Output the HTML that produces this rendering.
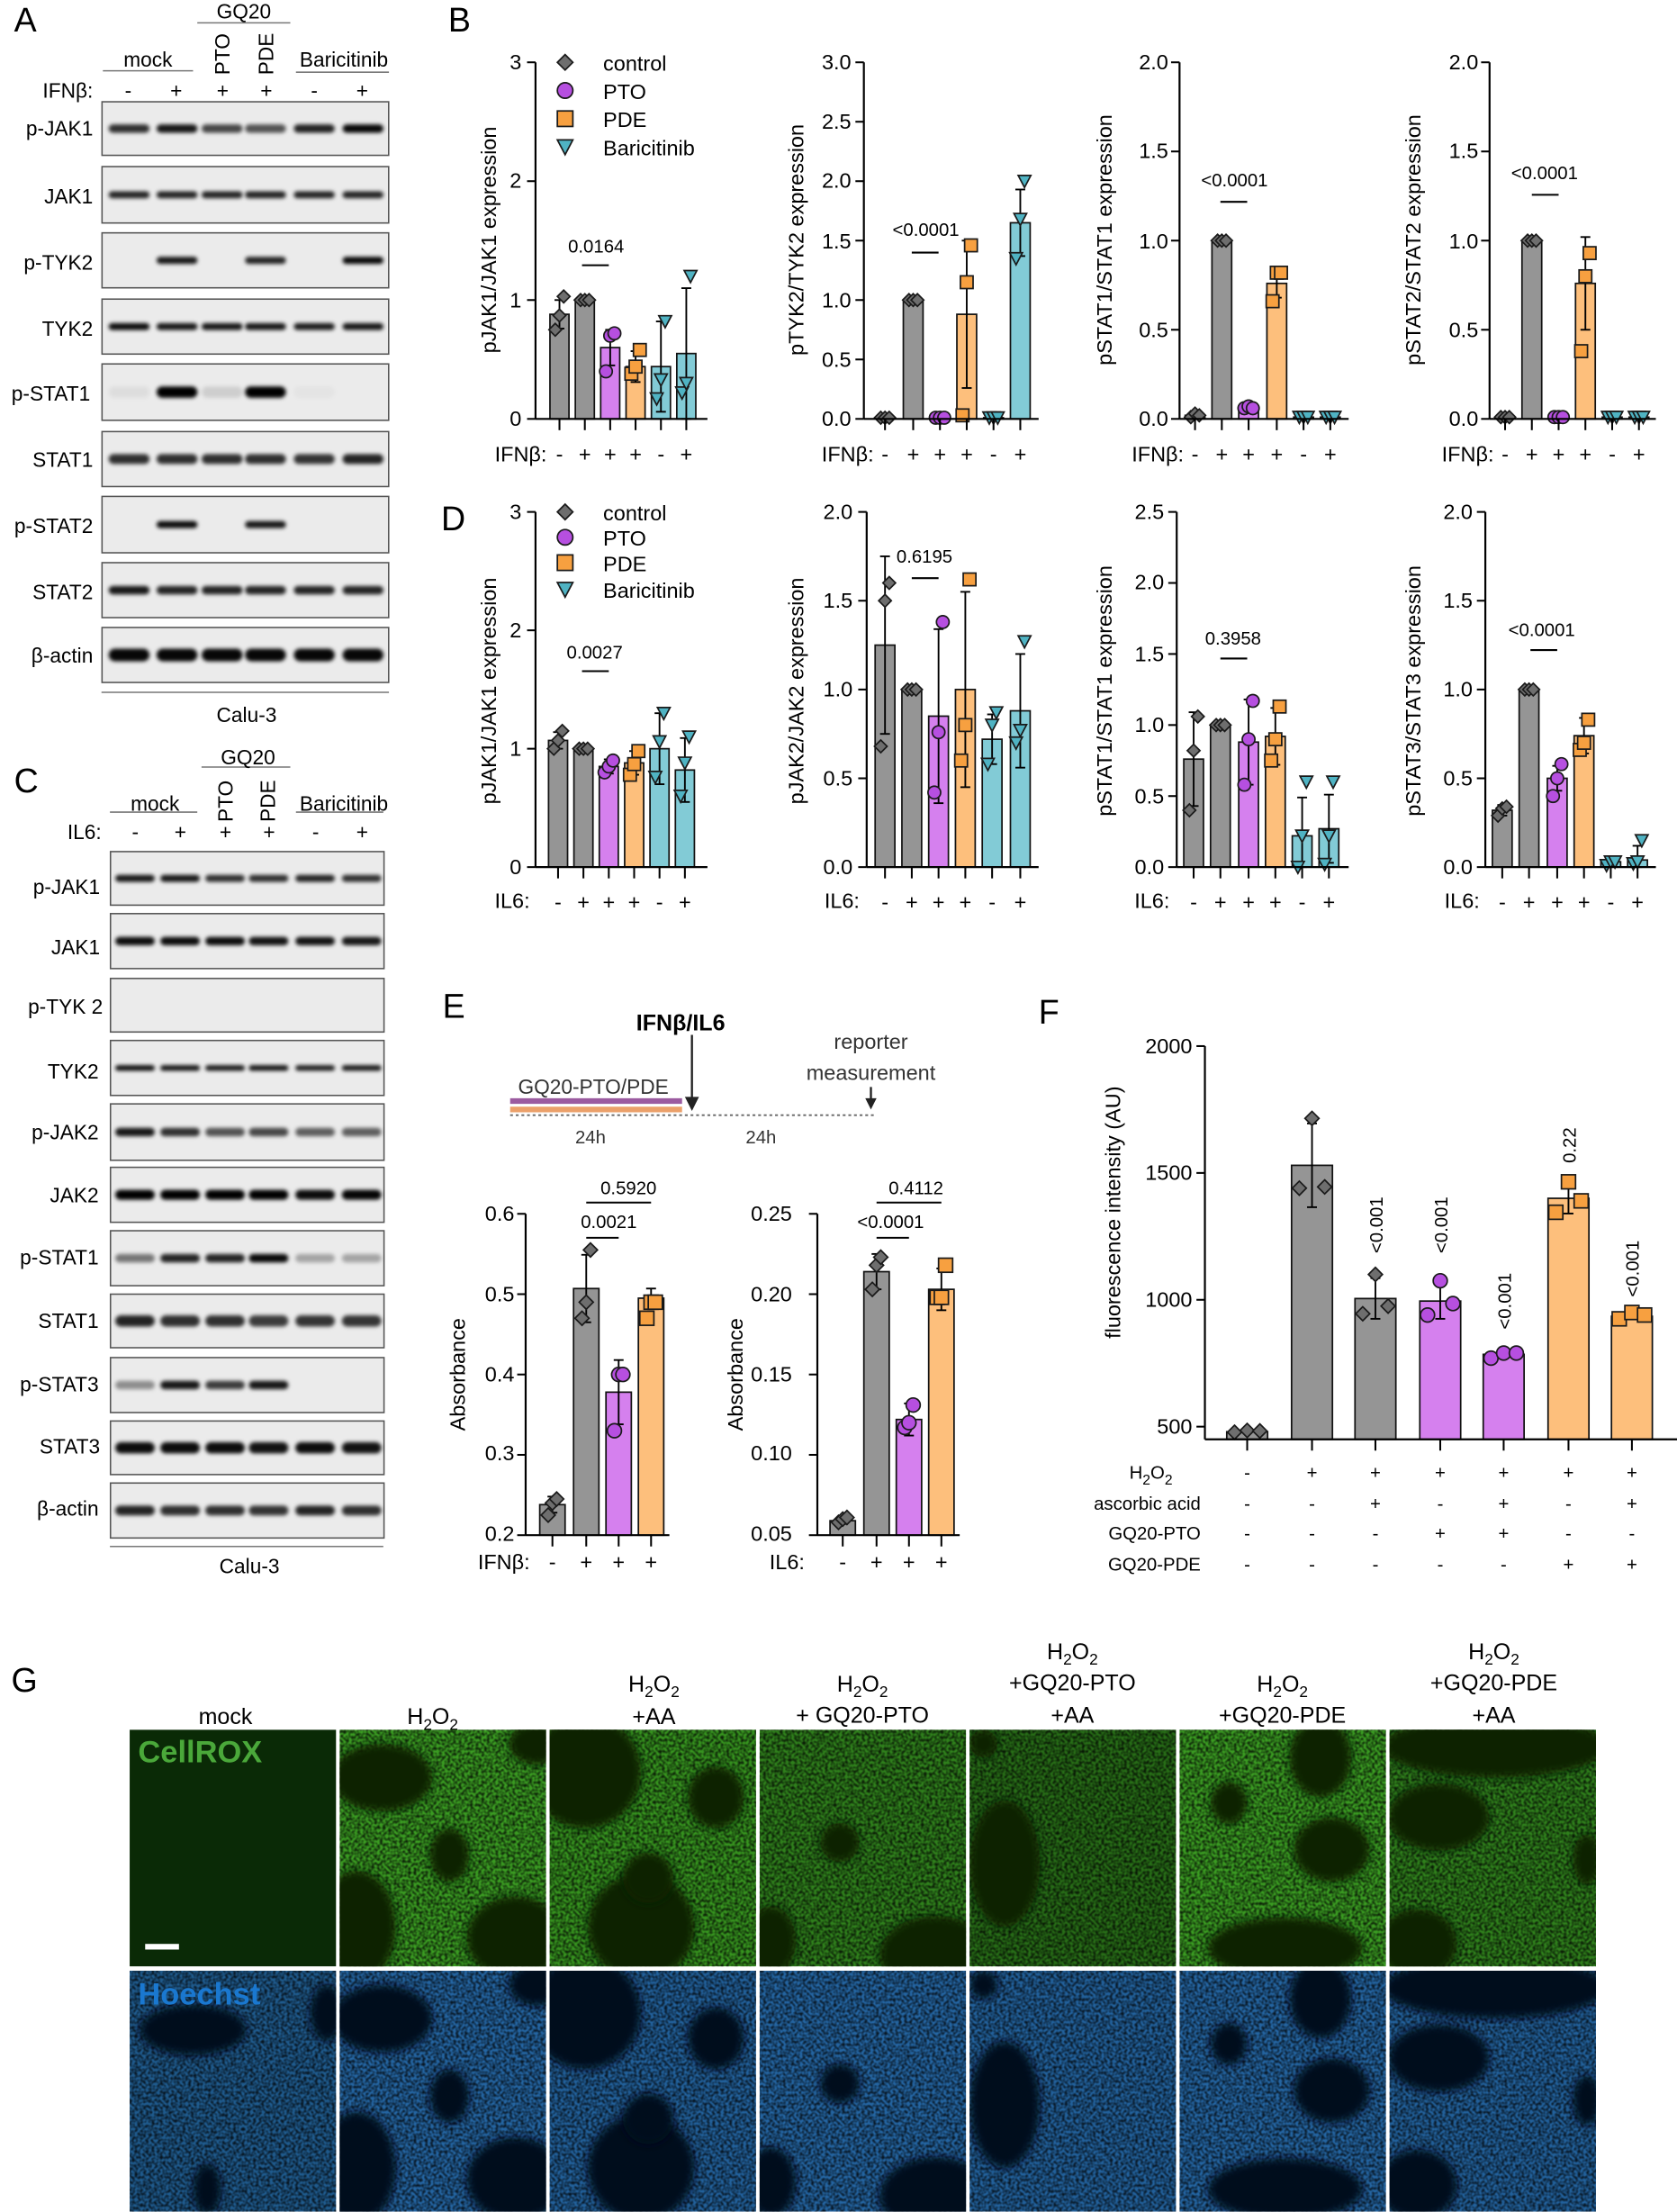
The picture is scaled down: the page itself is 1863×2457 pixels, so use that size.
<!DOCTYPE html>
<html><head><meta charset="utf-8">
<style>
html,body{margin:0;padding:0;background:#fff;}
svg{display:block;}
text{font-family:"Liberation Sans",Arial,sans-serif;fill:#000;}
.t{font-size:15px;}
.s{font-size:13px;}
.b{font-size:14.5px;}
.ar{text-anchor:end;}
.am{text-anchor:middle;}
.P{font-size:24px;}
</style></head>
<body>
<svg id="svg" width="1863" height="2457" viewBox="0 0 1190 1569" xmlns="http://www.w3.org/2000/svg">
<defs>
<filter id="bl" x="-20%" y="-100%" width="140%" height="300%"><feGaussianBlur stdDeviation="1.4"/></filter>
<filter id="bl2" x="-20%" y="-20%" width="140%" height="140%"><feGaussianBlur stdDeviation="3"/></filter>
<filter id="nz" x="0" y="0" width="100%" height="100%">
<feTurbulence type="fractalNoise" baseFrequency="0.5" numOctaves="1" seed="3"/>
<feColorMatrix type="matrix" values="0 0 0 0 0  0 0 0 0 0  0 0 0 0 0  0 0 0 2.2 -0.7"/>
</filter>
</defs>
<rect width="1190" height="1569" fill="#fff"/>
<g id="g"></g>

<text x="10" y="22" class="P">A</text>
<text x="318" y="22" class="P">B</text>
<text x="10" y="562" class="P">C</text>
<text x="313" y="376" class="P">D</text>
<text x="314" y="722" class="P">E</text>
<text x="737" y="726" class="P">F</text>
<text x="8" y="1200" class="P">G</text>

<text x="105" y="47" class="b am">mock</text>
<text x="173" y="13" class="b am">GQ20</text>
<text class="b" transform="translate(163,53) rotate(-90)">PTO</text>
<text class="b" transform="translate(194,53) rotate(-90)">PDE</text>
<text x="244" y="47" class="b am">Baricitinib</text>
<text x="66" y="69" class="b ar">IFNβ:</text>
<text x="91" y="69" class="b am">-</text><text x="125" y="69" class="b am">+</text><text x="158" y="69" class="b am">+</text><text x="189" y="69" class="b am">+</text><text x="223" y="69" class="b am">-</text><text x="257" y="69" class="b am">+</text>
<text x="66" y="96" class="b ar">p-JAK1</text>
<text x="66" y="144" class="b ar">JAK1</text>
<text x="66" y="191" class="b ar">p-TYK2</text>
<text x="66" y="238" class="b ar">TYK2</text>
<text x="64" y="284" class="b ar">p-STAT1</text>
<text x="66" y="331" class="b ar">STAT1</text>
<text x="66" y="378" class="b ar">p-STAT2</text>
<text x="66" y="425" class="b ar">STAT2</text>
<text x="66" y="470" class="b ar">β-actin</text>
<text x="175" y="512" class="b am">Calu-3</text>

<text x="110" y="575" class="b am">mock</text>
<text x="176" y="542" class="b am">GQ20</text>
<text class="b" transform="translate(165,583) rotate(-90)">PTO</text>
<text class="b" transform="translate(195,583) rotate(-90)">PDE</text>
<text x="244" y="575" class="b am">Baricitinib</text>
<text x="72" y="595" class="b ar">IL6:</text>
<text x="96" y="595" class="b am">-</text><text x="128" y="595" class="b am">+</text><text x="160" y="595" class="b am">+</text><text x="191" y="595" class="b am">+</text><text x="224" y="595" class="b am">-</text><text x="257" y="595" class="b am">+</text>
<text x="71" y="634" class="b ar">p-JAK1</text>
<text x="71" y="677" class="b ar">JAK1</text>
<text x="73" y="719" class="b ar">p-TYK 2</text>
<text x="70" y="765" class="b ar">TYK2</text>
<text x="70" y="808" class="b ar">p-JAK2</text>
<text x="70" y="853" class="b ar">JAK2</text>
<text x="70" y="897" class="b ar">p-STAT1</text>
<text x="70" y="942" class="b ar">STAT1</text>
<text x="70" y="987" class="b ar">p-STAT3</text>
<text x="71" y="1031" class="b ar">STAT3</text>
<text x="70" y="1075" class="b ar">β-actin</text>
<text x="177" y="1116" class="b am">Calu-3</text>

<text x="370" y="49" class="t ar">3</text><text x="370" y="133" class="t ar">2</text><text x="370" y="218" class="t ar">1</text><text x="370" y="302" class="t ar">0</text>
<text class="t am" transform="translate(352,170) rotate(-90)">pJAK1/JAK1 expression</text>
<text x="428" y="50" class="t">control</text><text x="428" y="70" class="t">PTO</text><text x="428" y="90" class="t">PDE</text><text x="428" y="110" class="t">Baricitinib</text>
<text x="423" y="179" class="s am">0.0164</text>
<text x="388" y="327" class="t ar">IFNβ:</text>
<text x="604" y="49" class="t ar">3.0</text><text x="604" y="91" class="t ar">2.5</text><text x="604" y="133" class="t ar">2.0</text><text x="604" y="176" class="t ar">1.5</text><text x="604" y="218" class="t ar">1.0</text><text x="604" y="260" class="t ar">0.5</text><text x="604" y="302" class="t ar">0.0</text>
<text class="t am" transform="translate(570,170) rotate(-90)">pTYK2/TYK2 expression</text>
<text x="657" y="167" class="s am">&lt;0.0001</text>
<text x="620" y="327" class="t ar">IFNβ:</text>
<text x="829" y="49" class="t ar">2.0</text><text x="829" y="112" class="t ar">1.5</text><text x="829" y="176" class="t ar">1.0</text><text x="829" y="239" class="t ar">0.5</text><text x="829" y="302" class="t ar">0.0</text>
<text class="t am" transform="translate(789,170) rotate(-90)">pSTAT1/STAT1 expression</text>
<text x="876" y="132" class="s am">&lt;0.0001</text>
<text x="840" y="327" class="t ar">IFNβ:</text>
<text x="1049" y="49" class="t ar">2.0</text><text x="1049" y="112" class="t ar">1.5</text><text x="1049" y="176" class="t ar">1.0</text><text x="1049" y="239" class="t ar">0.5</text><text x="1049" y="302" class="t ar">0.0</text>
<text class="t am" transform="translate(1008,170) rotate(-90)">pSTAT2/STAT2 expression</text>
<text x="1096" y="127" class="s am">&lt;0.0001</text>
<text x="1060" y="327" class="t ar">IFNβ:</text>

<text x="370" y="368" class="t ar">3</text><text x="370" y="452" class="t ar">2</text><text x="370" y="536" class="t ar">1</text><text x="370" y="620" class="t ar">0</text>
<text class="t am" transform="translate(352,490) rotate(-90)">pJAK1/JAK1 expression</text>
<text x="428" y="369" class="t">control</text><text x="428" y="387" class="t">PTO</text><text x="428" y="405" class="t">PDE</text><text x="428" y="424" class="t">Baricitinib</text>
<text x="422" y="467" class="s am">0.0027</text>
<text x="376" y="644" class="t ar">IL6:</text>
<text x="605" y="368" class="t ar">2.0</text><text x="605" y="431" class="t ar">1.5</text><text x="605" y="494" class="t ar">1.0</text><text x="605" y="557" class="t ar">0.5</text><text x="605" y="620" class="t ar">0.0</text>
<text class="t am" transform="translate(570,490) rotate(-90)">pJAK2/JAK2 expression</text>
<text x="656" y="399" class="s am">0.6195</text>
<text x="610" y="644" class="t ar">IL6:</text>
<text x="826" y="368" class="t ar">2.5</text><text x="826" y="418" class="t ar">2.0</text><text x="826" y="469" class="t ar">1.5</text><text x="826" y="519" class="t ar">1.0</text><text x="826" y="570" class="t ar">0.5</text><text x="826" y="620" class="t ar">0.0</text>
<text class="t am" transform="translate(789,490) rotate(-90)">pSTAT1/STAT1 expression</text>
<text x="875" y="457" class="s am">0.3958</text>
<text x="830" y="644" class="t ar">IL6:</text>
<text x="1045" y="368" class="t ar">2.0</text><text x="1045" y="431" class="t ar">1.5</text><text x="1045" y="494" class="t ar">1.0</text><text x="1045" y="557" class="t ar">0.5</text><text x="1045" y="620" class="t ar">0.0</text>
<text class="t am" transform="translate(1008,490) rotate(-90)">pSTAT3/STAT3 expression</text>
<text x="1094" y="451" class="s am">&lt;0.0001</text>
<text x="1050" y="644" class="t ar">IL6:</text>

<text x="483" y="731" class="t am" style="font-weight:bold;font-size:16px">IFNβ/IL6</text>
<text x="618" y="744" class="t am" style="fill:#333">reporter</text>
<text x="618" y="766" class="t am" style="fill:#333">measurement</text>
<text x="421" y="776" class="b am" style="fill:#333">GQ20-PTO/PDE</text>
<text x="419" y="811" class="s am" style="fill:#333">24h</text>
<text x="540" y="811" class="s am" style="fill:#333">24h</text>
<text x="365" y="866" class="t ar">0.6</text><text x="365" y="923" class="t ar">0.5</text><text x="365" y="980" class="t ar">0.4</text><text x="365" y="1036" class="t ar">0.3</text><text x="365" y="1093" class="t ar">0.2</text>
<text class="t am" transform="translate(330,975) rotate(-90)">Absorbance</text>
<text x="432" y="871" class="s am">0.0021</text>
<text x="446" y="847" class="s am">0.5920</text>
<text x="376" y="1113" class="t ar">IFNβ:</text>
<text x="562" y="866" class="t ar">0.25</text><text x="562" y="923" class="t ar">0.20</text><text x="562" y="980" class="t ar">0.15</text><text x="562" y="1036" class="t ar">0.10</text><text x="562" y="1093" class="t ar">0.05</text>
<text class="t am" transform="translate(527,975) rotate(-90)">Absorbance</text>
<text x="632" y="871" class="s am">&lt;0.0001</text>
<text x="650" y="847" class="s am">0.4112</text>
<text x="571" y="1113" class="t ar">IL6:</text>

<text x="846" y="747" class="t ar">2000</text><text x="846" y="837" class="t ar">1500</text><text x="846" y="927" class="t ar">1000</text><text x="846" y="1017" class="t ar">500</text>
<text class="t am" transform="translate(795,860) rotate(-90)">fluorescence intensity (AU)</text>
<text class="s" transform="translate(981,889) rotate(-90)">&lt;0.001</text>
<text class="s" transform="translate(1027,889) rotate(-90)">&lt;0.001</text>
<text class="s" transform="translate(1072,943) rotate(-90)">&lt;0.001</text>
<text class="s" transform="translate(1118,825) rotate(-90)">0.22</text>
<text class="s" transform="translate(1163,920) rotate(-90)">&lt;0.001</text>
<text x="832" y="1049" class="s ar">H<tspan font-size="10" dy="4">2</tspan><tspan dy="-4">O</tspan><tspan font-size="10" dy="4">2</tspan></text>
<text x="852" y="1071" class="s ar">ascorbic acid</text>
<text x="852" y="1092" class="s ar">GQ20-PTO</text>
<text x="852" y="1114" class="s ar">GQ20-PDE</text>

<text x="160" y="1223" class="t am" style="font-size:16px">mock</text>
<text x="307" y="1223" class="t am" style="font-size:16px">H<tspan font-size="11" dy="4">2</tspan><tspan dy="-4">O</tspan><tspan font-size="11" dy="4">2</tspan></text>
<text x="464" y="1200" class="t am" style="font-size:16px">H<tspan font-size="11" dy="4">2</tspan><tspan dy="-4">O</tspan><tspan font-size="11" dy="4">2</tspan></text>
<text x="464" y="1223" class="t am" style="font-size:16px">+AA</text>
<text x="612" y="1200" class="t am" style="font-size:16px">H<tspan font-size="11" dy="4">2</tspan><tspan dy="-4">O</tspan><tspan font-size="11" dy="4">2</tspan></text>
<text x="612" y="1222" class="t am" style="font-size:16px">+ GQ20-PTO</text>
<text x="761" y="1177" class="t am" style="font-size:16px">H<tspan font-size="11" dy="4">2</tspan><tspan dy="-4">O</tspan><tspan font-size="11" dy="4">2</tspan></text>
<text x="761" y="1199" class="t am" style="font-size:16px">+GQ20-PTO</text>
<text x="761" y="1222" class="t am" style="font-size:16px">+AA</text>
<text x="910" y="1200" class="t am" style="font-size:16px">H<tspan font-size="11" dy="4">2</tspan><tspan dy="-4">O</tspan><tspan font-size="11" dy="4">2</tspan></text>
<text x="910" y="1222" class="t am" style="font-size:16px">+GQ20-PDE</text>
<text x="1060" y="1177" class="t am" style="font-size:16px">H<tspan font-size="11" dy="4">2</tspan><tspan dy="-4">O</tspan><tspan font-size="11" dy="4">2</tspan></text>
<text x="1060" y="1199" class="t am" style="font-size:16px">+GQ20-PDE</text>
<text x="1060" y="1222" class="t am" style="font-size:16px">+AA</text>
<g id="imgs"></g>
<text x="98" y="1250" style="font-size:22px;font-weight:bold;fill:#4aa83a">CellROX</text>
<text x="98" y="1422" style="font-size:22px;font-weight:bold;fill:#1a78d0">Hoechst</text>
</svg>
<script>
const NS='http://www.w3.org/2000/svg';
const G=document.getElementById('g');
function E(t,a,p){p=p||G;const e=document.createElementNS(NS,t);for(const k in a)e.setAttribute(k,a[k]);p.appendChild(e);return e;}
function L(x1,y1,x2,y2,w,c,p){E('line',{x1,y1,x2,y2,stroke:c||'#000','stroke-width':w||1.3},p);}
const COL={c:'#959595',p:'#d580ee',o:'#fdbf7c',b:'#82cbd6'};
const MK={c:'#6e6e6e',p:'#b64fe0',o:'#f7a040',b:'#4fb3c3'};
function marker(t,x,y,s){
 const st={stroke:'#1a1a1a','stroke-width':1.1,fill:MK[t]};
 if(t=='c'){st.points=`${x},${y-s} ${x+s},${y} ${x},${y+s} ${x-s},${y}`;E('polygon',st);}
 else if(t=='p'){st.cx=x;st.cy=y;st.r=s;E('circle',st);}
 else if(t=='o'){st.x=x-s;st.y=y-s;st.width=2*s;st.height=2*s;E('rect',st);}
 else {st.points=`${x-s},${y-s*0.9} ${x+s},${y-s*0.9} ${x},${y+s}`;E('polygon',st);}
}
function chart(o){
 const sc=v=>o.y0-(v-o.min)/(o.max-o.min)*(o.y0-o.y1);
 const base=o.base||o.y0;
 o.xs.forEach((x,i)=>{const v=o.vals[i],t=o.types[i];const yv=Math.min(sc(v),base);
  E('rect',{x:x-o.bw/2,y:yv,width:o.bw,height:Math.max(0,base-yv),fill:COL[t],stroke:'#111','stroke-width':1.1});});
 o.xs.forEach((x,i)=>{const v=o.vals[i],e=o.errs[i];
  if(e>0){const lo=Math.max(o.min,v-e);L(x,sc(lo),x,sc(v+e),1.2);L(x-3.5,sc(v+e),x+3.5,sc(v+e),1.2);L(x-3.5,sc(lo),x+3.5,sc(lo),1.2);}
  o.pts[i].forEach((pv,j)=>marker(o.types[i],x+(j-1)*(o.sp||3),sc(pv),o.ms||4.5));});
 L(o.ax,o.y1,o.ax,base,1.4);L(o.ax,base,o.xend,base,1.4);
 o.ticks.forEach(v=>L(o.ax-6,sc(v),o.ax,sc(v),1.3));
 o.xs.forEach(x=>L(x,base,x,base+8,1.3));
 if(o.signs) o.xs.forEach((x,i)=>{const t=E('text',{x:x,y:base+(o.sy||30),'text-anchor':'middle','font-size':15});t.textContent=o.signs[i];});
}
const T6=['c','c','p','o','b','b'];
const S6=['-','+','+','+','-','+'];
chart({ax:380,y0:297,y1:44,min:0,max:3,ticks:[0,1,2,3],xs:[397,415,433,451,469,487],bw:13.5,xend:502,types:T6,signs:S6,
 vals:[0.88,1.0,0.6,0.44,0.44,0.55],errs:[0.12,0.01,0.15,0.13,0.38,0.55],
 pts:[[0.75,0.87,1.03],[1,1,1],[0.4,0.7,0.72],[0.38,0.44,0.58],[0.17,0.33,0.82],[0.22,0.3,1.2]]});
chart({ax:613,y0:297,y1:44,min:0,max:3,ticks:[0,0.5,1,1.5,2,2.5,3],xs:[628,648,667,686,705,724],bw:14,xend:737,types:T6,signs:S6,
 vals:[0.01,1.0,0.01,0.88,0.01,1.65],errs:[0,0,0,0.62,0,0.28],
 pts:[[0.01,0.01,0.01],[1,1,1],[0.01,0.01,0.01],[0.03,1.15,1.46],[0.01,0.01,0.01],[1.35,1.68,2.0]]});
chart({ax:837,y0:297,y1:44,min:0,max:2,ticks:[0,0.5,1,1.5,2],xs:[848,867,886,906,925,944],bw:14,xend:957,types:T6,signs:S6,
 vals:[0.02,1.0,0.06,0.76,0.01,0.01],errs:[0,0,0.01,0.08,0,0],
 pts:[[0.01,0.03,0.02],[1,1,1],[0.06,0.07,0.06],[0.66,0.82,0.82],[0.01,0.01,0.01],[0.01,0.01,0.01]]});
chart({ax:1057,y0:297,y1:44,min:0,max:2,ticks:[0,0.5,1,1.5,2],xs:[1068,1087,1106,1125,1144,1163],bw:14,xend:1175,types:T6,signs:S6,
 vals:[0.01,1.0,0.01,0.76,0.01,0.01],errs:[0,0,0,0.26,0,0],
 pts:[[0.01,0.01,0.01],[1,1,1],[0.01,0.01,0.01],[0.38,0.8,0.93],[0.01,0.01,0.01],[0.01,0.01,0.01]]});
chart({ax:380,y0:615,y1:363,min:0,max:3,ticks:[0,1,2,3],xs:[396,414,432,450,468,486],bw:13.5,xend:502,types:T6,signs:S6,
 vals:[1.07,1.0,0.85,0.88,1.0,0.82],errs:[0.07,0.02,0.06,0.1,0.3,0.27],
 pts:[[1.0,1.07,1.15],[1,1,1],[0.8,0.85,0.9],[0.78,0.87,0.98],[0.76,1.06,1.3],[0.6,0.88,1.1]]});
chart({ax:615,y0:615,y1:363,min:0,max:2,ticks:[0,0.5,1,1.5,2],xs:[628,647,666,685,704,724],bw:14,xend:737,types:T6,signs:S6,
 vals:[1.25,1.0,0.85,1.0,0.72,0.88],errs:[0.5,0,0.49,0.55,0.14,0.32],
 pts:[[0.68,1.5,1.6],[1,1,1],[0.42,0.76,1.38],[0.6,0.8,1.62],[0.58,0.8,0.87],[0.7,0.77,1.27]]});
chart({ax:835,y0:615,y1:363,min:0,max:2.5,ticks:[0,0.5,1,1.5,2,2.5],xs:[847,866,886,905,924,943],bw:14,xend:957,types:T6,signs:S6,
 vals:[0.76,1.0,0.88,0.92,0.22,0.27],errs:[0.33,0,0.3,0.2,0.27,0.24],
 pts:[[0.4,0.82,1.06],[1,1,1],[0.58,0.9,1.17],[0.75,0.9,1.13],[0.0,0.22,0.6],[0.02,0.22,0.6]]});
chart({ax:1054,y0:615,y1:363,min:0,max:2,ticks:[0,0.5,1,1.5,2],xs:[1066,1085,1105,1124,1143,1162],bw:14,xend:1175,types:T6,signs:S6,
 vals:[0.32,1.0,0.5,0.74,0.03,0.04],errs:[0.03,0,0.07,0.1,0.01,0.08],
 pts:[[0.29,0.33,0.34],[1,1,1],[0.4,0.5,0.58],[0.66,0.7,0.83],[0.01,0.03,0.03],[0.02,0.03,0.15]]});
[[44,64,84,104],[363,381,399,418]].forEach(ys=>{['c','p','o','b'].forEach((t,i)=>marker(t,401,ys[i],5.5));});
[[413,432,188],[647,666,179],[866,885,143],[1087,1106,138],[413,432,476],[647,666,410],[866,885,467],[1086,1105,461],
 [416,439,878],[416,462,853],[622,645,878],[622,668,853]].forEach(a=>L(a[0],a[2],a[1],a[2],1.3));
const E4=['c','c','p','o'];
chart({ax:373,y0:1089,y1:861,min:0.2,max:0.6,ticks:[0.2,0.3,0.4,0.5,0.6],xs:[392,416,439,462],bw:18,xend:475,types:E4,signs:['-','+','+','+'],sy:24,
 vals:[0.238,0.507,0.378,0.495],errs:[0.01,0.042,0.04,0.012],pts:[[0.225,0.24,0.245],[0.47,0.49,0.555],[0.33,0.4,0.4],[0.47,0.49,0.49]],ms:5});
chart({ax:580,y0:1089,y1:861,min:0.05,max:0.25,ticks:[0.05,0.1,0.15,0.2,0.25],xs:[598,622,645,668],bw:18,xend:681,types:E4,signs:['-','+','+','+'],sy:24,
 vals:[0.059,0.214,0.122,0.203],errs:[0.002,0.011,0.01,0.013],pts:[[0.058,0.06,0.061],[0.203,0.218,0.223],[0.117,0.12,0.131],[0.198,0.198,0.218]],ms:5});
L(362,781,484,781,4,'#9b5aa0');L(362,787,484,787,4,'#eba06a');
E('line',{x1:362,y1:791,x2:622,y2:791,stroke:'#666','stroke-width':1.2,'stroke-dasharray':'2,2'});
L(491,734,491,781,1.5,'#222');E('polygon',{points:'486,778 496,778 491,788',fill:'#222'});
L(618,771,618,781,1.5,'#222');E('polygon',{points:'614,779 622,779 618,787',fill:'#222'});
chart({ax:855,y0:1012,y1:742,min:500,max:2000,base:1021,ticks:[500,1000,1500,2000],xs:[885,931,976,1022,1067,1113,1158],bw:29,xend:1190,
 types:['c','c','c','p','p','o','o'],vals:[480,1530,1005,995,785,1400,935],errs:[0,165,80,70,10,60,12],
 pts:[[478,485,483],[1440,1715,1445],[945,1100,975],[940,1075,985],[770,790,790],[1345,1465,1390],[925,950,940]],sp:9,ms:5});
const FT=[['-','+','+','+','+','+','+'],['-','-','+','-','+','-','+'],['-','-','-','+','+','-','-'],['-','-','-','-','-','+','+']];
const fx=[885,931,976,1022,1067,1113,1158],fy=[1049,1071,1092,1114];
FT.forEach((r,i)=>r.forEach((s,j)=>{const t=E('text',{x:fx[j],y:fy[i],'text-anchor':'middle','font-size':13});t.textContent=s;}));
function blot(x1,y1,x2,y2,lanes,ints,th,w){
 E('rect',{x:x1,y:y1,width:x2-x1,height:y2-y1,fill:'#ebebeb',stroke:'#555','stroke-width':1});
 const cy=(y1+y2)/2;
 lanes.forEach((lx,i)=>{const a=ints[i];if(a<=0)return;
  E('rect',{x:lx-w/2,y:cy-th/2,width:w,height:th,rx:th/2,fill:'#000','fill-opacity':a,filter:'url(#bl)'});
 });
}
const AL=[91.6,125.6,157.6,188.4,223,257.6];
const AR=[[72,110,[.8,.9,.7,.65,.85,.97],6],[118,158,[.85,.85,.85,.85,.85,.85],5],[165,204,[0,.9,0,.85,0,.97],5],[212,251,[.95,.9,.9,.9,.88,.9],5],
[258,298,[.06,1,.12,1,.03,0],8],[306,345,[.8,.8,.8,.8,.78,.85],7],[352,392,[0,.95,0,.9,0,0],5],[399,438,[.9,.85,.85,.85,.85,.85],6],[445,484,[.97,.97,.97,.97,.97,.97],9]];
AR.forEach(r=>blot(72.4,r[0],275.8,r[1],AL,r[2],r[3],29));
L(72,491,276,491,1,'#777');
const CL=[95.8,127.8,159.7,190.6,223.6,256.6];
const CR=[[604,642,[.9,.9,.8,.8,.85,.8],5],[648,687,[.95,.95,.95,.92,.92,.9],6],[694,732,[0,0,0,0,0,0],5],[738,777,[.95,.92,.9,.92,.88,.9],4],
[783,823,[.9,.8,.65,.7,.6,.6],6],[828,867,[1,1,1,1,.95,.98],7],[873,912,[.5,.85,.85,.97,.3,.3],6],[918,956,[.85,.8,.8,.75,.78,.78],8],
[963,1002,[.4,.9,.75,.9,0,0],6],[1008,1046,[.95,.95,.95,.92,.95,.92],8],[1052,1091,[.85,.8,.8,.78,.85,.8],7]];
CR.forEach(r=>blot(78.4,r[0],272.5,r[1],CL,r[2],r[3],28));
L(78,1097,272,1097,1,'#777');
L(73,50,137,50,1,'#777');L(140,16,206,16,1,'#777');L(210,51,276,51,1,'#777');
L(78,576,140,576,1,'#777');L(143,544,206,544,1,'#777');L(210,576,272,576,1,'#777');
const IG=document.getElementById('imgs');
const cols=[92,241,390,539,688,837,986],iw=146.5;
const blobs=[
 [],
 [[30,34,36,24],[78,89,14,19],[12,140,28,40],[125,148,35,30],[140,10,20,15]],
 [[25,30,40,40],[118,48,20,22],[65,140,38,38],[70,105,18,18]],
 [[57,80,14,14],[125,160,40,28],[8,150,18,25]],
 [[25,95,25,45],[10,10,10,10]],
 [[35,52,13,15],[108,85,27,23],[100,20,22,28],[75,155,55,22]],
 [[75,12,80,22],[35,62,36,24],[140,92,10,18],[20,152,28,25]]];
const gcol=['#0a2a06','#3a9a22','#36921f','#2f7f1c','#276c17','#3a9a22','#2f7f1c'];
const bcol=['#1f5a8c','#2464a0','#22609a','#2464a0','#22609a','#2464a0','#22609a'];
cols.forEach((x,i)=>{
 [[1227,168,gcol[i],'#0a2406'],[1398,171,bcol[i],'#040e1e']].forEach((r,k)=>{
  const [y,h,c,d]=r;
  const cp='cp'+i+'_'+k;
  const cl=E('clipPath',{id:cp},IG);E('rect',{x:x,y:y,width:iw,height:h},cl);
  const g=E('g',{'clip-path':`url(#${cp})`},IG);
  E('rect',{x:x,y:y,width:iw,height:h,fill:c},g);
  if(!(i==0&&k==0)) E('rect',{x:x,y:y,width:iw,height:h,filter:'url(#nz)',opacity:0.75},g);
  let bl=blobs[i];
  if(i==0&&k==1) bl=[[45,42,38,18],[55,155,10,18],[140,30,12,20]];
  bl.forEach(b=>E('ellipse',{cx:x+b[0],cy:y+b[1],rx:b[2],ry:b[3],fill:d,filter:'url(#bl2)'},g));
 });
});
E('rect',{x:103,y:1379,width:24,height:4,fill:'#fff'},IG);
</script>
</body></html>
